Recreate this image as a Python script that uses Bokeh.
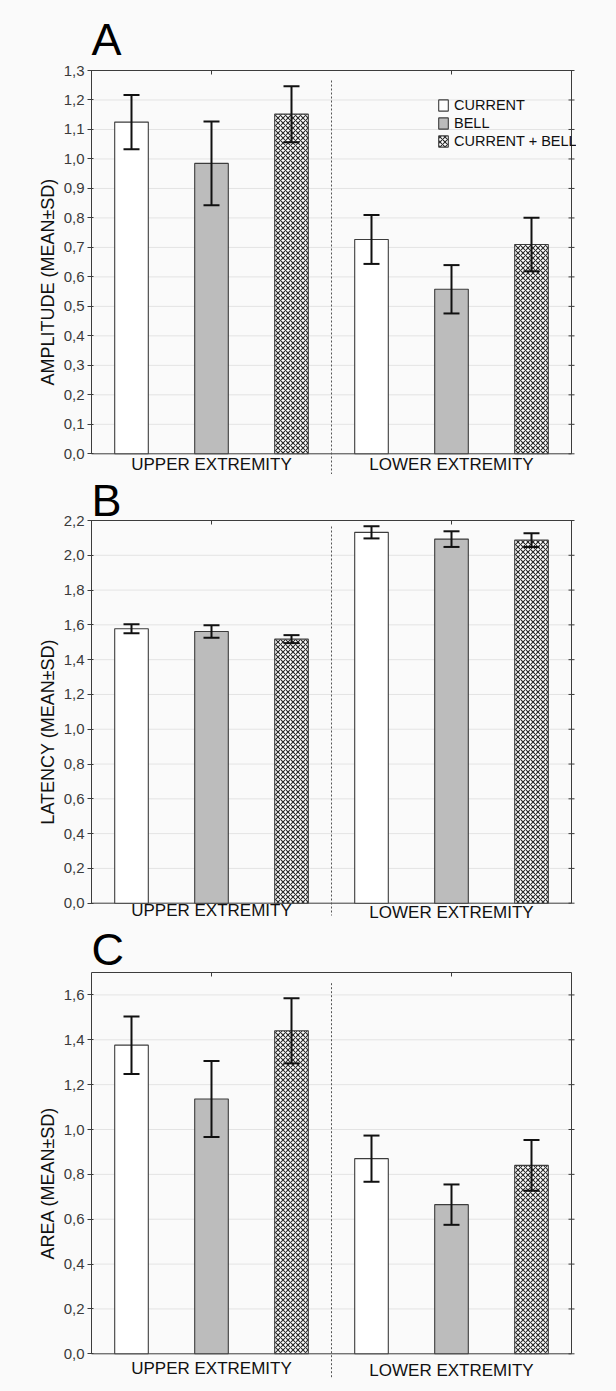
import math

from bokeh.plotting import figure
from bokeh.layouts import column, row
from bokeh.models import Range1d, LinearAxis, FixedTicker, Legend, LegendItem
from bokeh.core.properties import value
from bokeh.embed import file_html
from bokeh.resources import INLINE

# ---------------------------------------------------------------- data
GROUPS = ["UPPER EXTREMITY", "LOWER EXTREMITY"]
SERIES = ["CURRENT", "BELL", "CURRENT + BELL"]
Y_TITLES = ["AMPLITUDE (MEAN±SD)", "LATENCY (MEAN±SD)", "AREA (MEAN±SD)"]
LETTERS = ["A", "B", "C"]

amplitude_current = [1.125, 0.727]
amplitude_current_sd = [0.092, 0.083]
amplitude_bell = [0.985, 0.558]
amplitude_bell_sd = [0.142, 0.082]
amplitude_both = [1.152, 0.710]
amplitude_both_sd = [0.095, 0.091]

latency_current = [1.578, 2.132]
latency_current_sd = [0.026, 0.035]
latency_bell = [1.562, 2.093]
latency_bell_sd = [0.036, 0.045]
latency_both = [1.518, 2.087]
latency_both_sd = [0.023, 0.040]

area_current = [1.376, 0.870]
area_current_sd = [0.128, 0.103]
area_bell = [1.136, 0.665]
area_bell_sd = [0.169, 0.090]
area_both = [1.440, 0.840]
area_both_sd = [0.145, 0.113]

amplitude_ticks = [0.0, 0.1, 0.2, 0.3, 0.4, 0.5, 0.6, 0.7, 0.8, 0.9, 1.0, 1.1, 1.2, 1.3]
amplitude_tick_labels = ["0,0", "0,1", "0,2", "0,3", "0,4", "0,5", "0,6", "0,7",
                         "0,8", "0,9", "1,0", "1,1", "1,2", "1,3"]
latency_ticks = [0.0, 0.2, 0.4, 0.6, 0.8, 1.0, 1.2, 1.4, 1.6, 1.8, 2.0, 2.2]
latency_tick_labels = ["0,0", "0,2", "0,4", "0,6", "0,8", "1,0", "1,2", "1,4",
                       "1,6", "1,8", "2,0", "2,2"]
area_ticks = [0.0, 0.2, 0.4, 0.6, 0.8, 1.0, 1.2, 1.4, 1.6]
area_tick_labels = ["0,0", "0,2", "0,4", "0,6", "0,8", "1,0", "1,2", "1,4", "1,6"]

# ---------------------------------------------------------------- layout / style
FONT = "Liberation Sans"
BG = "#fafafa"
BOX = "#3c3c3c"
PAGE_W, PAGE_H = 616, 1391
TITLE_W = 60                     # strip on the left that holds the y titles
MAIN_W = PAGE_W - TITLE_W
FRAME_LEFT = 90                  # page x of the frame (1px left of the box)
PX_PER_SLOT = 80.0
PAD_L = 1.0 / PX_PER_SLOT
PAD_R = 5.0 / PX_PER_SLOT
BAR_W = 0.42
CAP_W = 0.2
BASELINE_FIX = 0.39              # text glyphs sit this many em below their anchor
LETTER_PX = 45
GROUP_PX = 17
YTITLE_PX = 18

PANEL_TOPS = [0, 474, 922]       # page y where each panel canvas starts
PANEL_H = [474, 448, 469]
BOX_TOPS = [70, 520, 972]        # page y of each plot box
BOX_BOTTOMS = [453.3, 902.7, 1353.3]

STYLES = [
    dict(fill_color="#ffffff"),
    dict(fill_color="#bcbcbc"),
    dict(fill_color="#ffffff", hatch_pattern="diagonal_cross", hatch_color="#2a2a2a",
         hatch_scale=5, hatch_weight=1.1),
]


def make_panel(i, series, ticks, tick_labels, ymax, letter_gap, label_drops, div_gaps,
               legend_at=None):
    height = PANEL_H[i]
    box_top = BOX_TOPS[i] - PANEL_TOPS[i]
    box_bottom = BOX_BOTTOMS[i] - PANEL_TOPS[i]
    ppu = (box_bottom - box_top) / ymax          # pixels per data unit
    y_end = ymax + box_top / ppu
    y_start = -(height - box_bottom) / ppu
    n_slots = len(GROUPS) * len(SERIES)
    left_border = FRAME_LEFT - TITLE_W
    frame_w = (n_slots + PAD_L + PAD_R) * PX_PER_SLOT

    p = figure(width=MAIN_W, height=height, output_backend="svg", toolbar_location=None,
               x_range=Range1d(-PAD_L, n_slots + PAD_R), y_range=Range1d(y_start, y_end),
               x_axis_location=None, y_axis_location=None,
               min_border_left=left_border,
               min_border_right=int(round(MAIN_W - left_border - frame_w)),
               min_border_top=0, min_border_bottom=0,
               background_fill_color=BG, border_fill_color=BG, outline_line_color=None)
    p.grid.visible = False

    yax = LinearAxis(ticker=FixedTicker(ticks=ticks),
                     major_label_overrides=dict(zip(ticks, tick_labels)),
                     bounds=(0, ymax),
                     axis_line_color=None,
                     major_tick_in=3, major_tick_out=3, major_tick_line_color=BOX,
                     minor_tick_line_color=None,
                     major_label_standoff=3,
                     major_label_text_font=FONT, major_label_text_font_size="15px",
                     major_label_text_color="#3a3a3a")
    p.add_layout(yax, "left")

    # horizontal dotted grid inside the box
    inner = [t for t in ticks if 0 < t < ymax]
    p.segment(x0=[0] * len(inner), x1=[n_slots] * len(inner), y0=inner, y1=inner,
              line_color="#cdcdcd", line_width=1, line_dash="1 1")
    # short ticks across the right edge
    p.segment(x0=[n_slots - 3 / PX_PER_SLOT] * len(ticks),
              x1=[n_slots + 3 / PX_PER_SLOT] * len(ticks), y0=ticks, y1=ticks,
              line_color=BOX, line_width=1)

    # plot box and the two ticks on its top edge
    p.quad(left=[0], right=[n_slots], bottom=[0], top=[ymax],
           fill_color=None, line_color=BOX, line_width=1)
    centers = [len(SERIES) * g + len(SERIES) / 2 for g in range(len(GROUPS))]
    p.segment(x0=centers, x1=centers, y0=[ymax] * 2, y1=[ymax - 4 / ppu] * 2,
              line_color=BOX, line_width=1)

    # dotted divider between the two groups
    mid = n_slots / 2
    p.segment(x0=[mid], x1=[mid], y0=[ymax - div_gaps[0] / ppu], y1=[-div_gaps[1] / ppu],
              line_color="#555555", line_width=1, line_dash="2 2")

    items = []
    for s, (means, sds) in enumerate(series):
        xs = [len(SERIES) * g + s + 0.5 for g in range(len(GROUPS))]
        r = p.vbar(x=xs, top=means, bottom=0, width=BAR_W, line_color=BOX,
                   line_width=1.1, **STYLES[s])
        items.append(LegendItem(label=SERIES[s], renderers=[r]))
        lo = [m - d for m, d in zip(means, sds)]
        hi = [m + d for m, d in zip(means, sds)]
        p.segment(x0=xs, x1=xs, y0=lo, y1=hi, line_color="#111111", line_width=2)
        for ends in (lo, hi):
            p.segment(x0=[x - CAP_W / 2 for x in xs], x1=[x + CAP_W / 2 for x in xs],
                      y0=ends, y1=ends, line_color="#111111", line_width=2)

    # group names under the box
    p.text(x=centers, y=[-(d - BASELINE_FIX * GROUP_PX) / ppu for d in label_drops],
           text=GROUPS, text_font=value(FONT), text_font_size=f"{GROUP_PX}px",
           text_color="#111111", text_align="center", text_baseline="alphabetic")

    # panel letter
    p.text(x=[0], y=[ymax + (letter_gap + BASELINE_FIX * LETTER_PX) / ppu],
           text=[LETTERS[i]], text_font=value(FONT), text_font_size=f"{LETTER_PX}px",
           text_color="#000000", text_align="left", text_baseline="alphabetic")

    if legend_at is not None:
        leg = Legend(items=items, location=legend_at, orientation="vertical",
                     glyph_width=12, glyph_height=14, label_height=14, spacing=2,
                     label_standoff=5, padding=0, margin=0,
                     label_text_font=FONT, label_text_font_size="14.5px",
                     label_text_color="#111111",
                     border_line_color=None, background_fill_alpha=0)
        p.add_layout(leg, "center")
    return p


pA = make_panel(0, [(amplitude_current, amplitude_current_sd),
                    (amplitude_bell, amplitude_bell_sd),
                    (amplitude_both, amplitude_both_sd)],
                amplitude_ticks, amplitude_tick_labels, 1.3,
                letter_gap=13.3, label_drops=(17, 17), div_gaps=(10, 24.7),
                legend_at=(347, 325))

pB = make_panel(1, [(latency_current, latency_current_sd),
                    (latency_bell, latency_bell_sd),
                    (latency_both, latency_both_sd)],
                latency_ticks, latency_tick_labels, 2.2,
                letter_gap=2.0, label_drops=(14, 15.5), div_gaps=(6, 12.3))

pC = make_panel(2, [(area_current, area_current_sd),
                    (area_bell, area_bell_sd),
                    (area_both, area_both_sd)],
                area_ticks, area_tick_labels, 1.7,
                letter_gap=5.5, label_drops=(21.7, 23.3), div_gaps=(10.7, 24.7))

# strip with the rotated y titles, in page pixels (y measured upward)
strip = figure(width=TITLE_W, height=PAGE_H, output_backend="svg", toolbar_location=None,
               x_range=Range1d(0, TITLE_W), y_range=Range1d(0, PAGE_H),
               x_axis_location=None, y_axis_location=None,
               min_border_left=0, min_border_right=0, min_border_top=0, min_border_bottom=0,
               background_fill_color=BG, border_fill_color=BG, outline_line_color=None)
strip.grid.visible = False
title_mid = [(t + b) / 2 + 20 for t, b in zip(BOX_TOPS, BOX_BOTTOMS)]
strip.text(x=[55 - BASELINE_FIX * YTITLE_PX] * 3, y=[PAGE_H - m for m in title_mid],
           text=Y_TITLES, angle=math.pi / 2, text_font=value(FONT),
           text_font_size=f"{YTITLE_PX}px", text_color="#111111",
           text_align="center", text_baseline="alphabetic")

layout = row(strip, column(pA, pB, pC, spacing=0), spacing=0,
             styles={"background-color": BG})
open("out.html", "w").write(file_html(layout, INLINE))
